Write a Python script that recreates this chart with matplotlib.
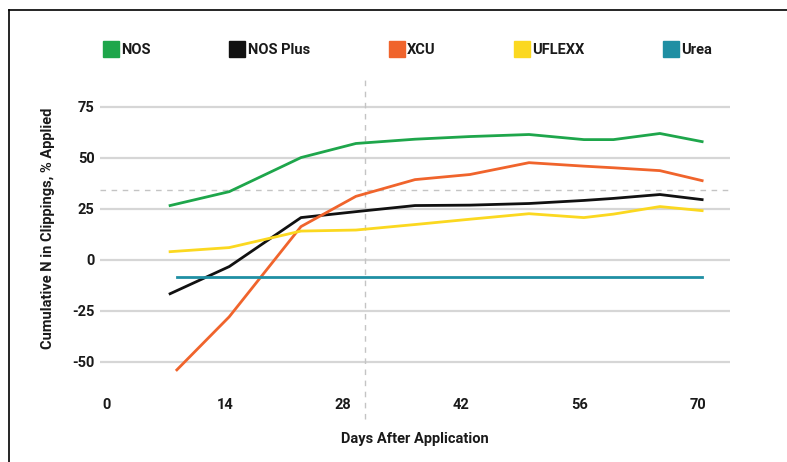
import matplotlib
matplotlib.use("Agg")
import matplotlib.pyplot as plt
from matplotlib.lines import Line2D
from matplotlib import font_manager

# ---- data ----
days = [7.5, 14.5, 23, 29.5, 36.5, 43, 50, 56.5, 60, 65.5, 70.5]
nos      = [26.5, 33.3, 50.0, 56.9, 59.0, 60.3, 61.3, 58.8, 58.8, 61.8, 57.8]
nos_plus = [-16.7, -3.4, 20.6, 23.5, 26.5, 26.7, 27.5, 29.0, 30.0, 31.9, 29.4]
xcu_days = [8.3, 14.5, 23, 29.5, 36.5, 43, 50, 56.5, 60, 65.5, 70.5]
xcu      = [-54.0, -28.0, 16.2, 31.0, 39.2, 41.7, 47.5, 45.8, 45.0, 43.6, 38.7]
uflexx   = [3.9, 5.9, 14.0, 14.5, 17.2, 19.8, 22.5, 20.6, 22.3, 26.0, 24.0]
urea_days = [8.3, 70.5]
urea      = [-8.5, -8.5]

series_names = ["NOS", "NOS Plus", "XCU", "UFLEXX", "Urea"]
colors = ["#1ea64b", "#111111", "#f0642c", "#fbd820", "#1f8fa3"]

xticks = [0, 14, 28, 42, 56, 70]
yticks = [-50, -25, 0, 25, 50, 75]
ref_h = 34
ref_v = 30.6

# font
avail = {f.name for f in font_manager.fontManager.ttflist}
fam = ["Liberation Sans Narrow", "DejaVu Sans"] if "Liberation Sans Narrow" in avail else ["Roboto", "DejaVu Sans"]
plt.rcParams["font.family"] = fam
plt.rcParams["axes.unicode_minus"] = False

fig = plt.figure(figsize=(7.87, 4.62), dpi=100)
ax = fig.add_axes([100/787, 1-376/462, 630/787, 296/462])

ax.set_xlim(-0.8, 73.8)
ax.set_ylim(-57, 88)

for y in yticks:
    ax.axhline(y, color="#d6d6d6", lw=1.6, zorder=1)

ax.axhline(ref_h, color="#c4c4c4", lw=1.0, ls=(0, (4, 4)), zorder=1)
ax.plot([ref_v, ref_v], [-78, 88], color="#c4c4c4", lw=1.0, ls=(0, (4, 4)),
        clip_on=False, zorder=1)

lw = 2.0
ax.plot(days, nos, color=colors[0], lw=lw, zorder=3)
ax.plot(days, nos_plus, color=colors[1], lw=lw, zorder=3)
ax.plot(xcu_days, xcu, color=colors[2], lw=lw, zorder=3)
ax.plot(days, uflexx, color=colors[3], lw=lw, zorder=3)
ax.plot(urea_days, urea, color=colors[4], lw=lw, zorder=3)

ax.set_xticks(xticks)
ax.set_yticks(yticks)
ax.tick_params(axis="both", length=0, labelsize=10.5, colors="#1a1a1a")
ax.tick_params(axis="x", pad=16)
ax.tick_params(axis="y", pad=4)
for lab in ax.get_xticklabels() + ax.get_yticklabels():
    lab.set_fontweight("bold")
for s in ax.spines.values():
    s.set_visible(False)

ax.set_xlabel("Days After Application", fontsize=10.5, fontweight="bold",
              color="#1a1a1a", labelpad=14)
ax.set_ylabel("Cumulative N in Clippings, % Applied", fontsize=10.5,
              fontweight="bold", color="#1a1a1a", labelpad=12)

handles = [Line2D([], [], ls="none", marker="s", markersize=11,
                  markerfacecolor=c, markeredgecolor=c) for c in colors]
leg = fig.legend(handles, series_names, loc="center", ncol=5,
                 bbox_to_anchor=(408/787, 1-50/462), frameon=False,
                 handletextpad=0.2, columnspacing=5.45, handlelength=1.0,
                 prop={"weight": "bold", "size": 10.5})
for t in leg.get_texts():
    t.set_color("#1a1a1a")

# outer frame lines (left and top)
fig.add_artist(Line2D([9/787, 9/787], [0, 1-10/462], color="black", lw=1.2,
                      transform=fig.transFigure))
fig.add_artist(Line2D([9/787, 1], [1-10/462, 1-10/462], color="black", lw=1.2,
                      transform=fig.transFigure))

fig.savefig("out.png", dpi=100)
